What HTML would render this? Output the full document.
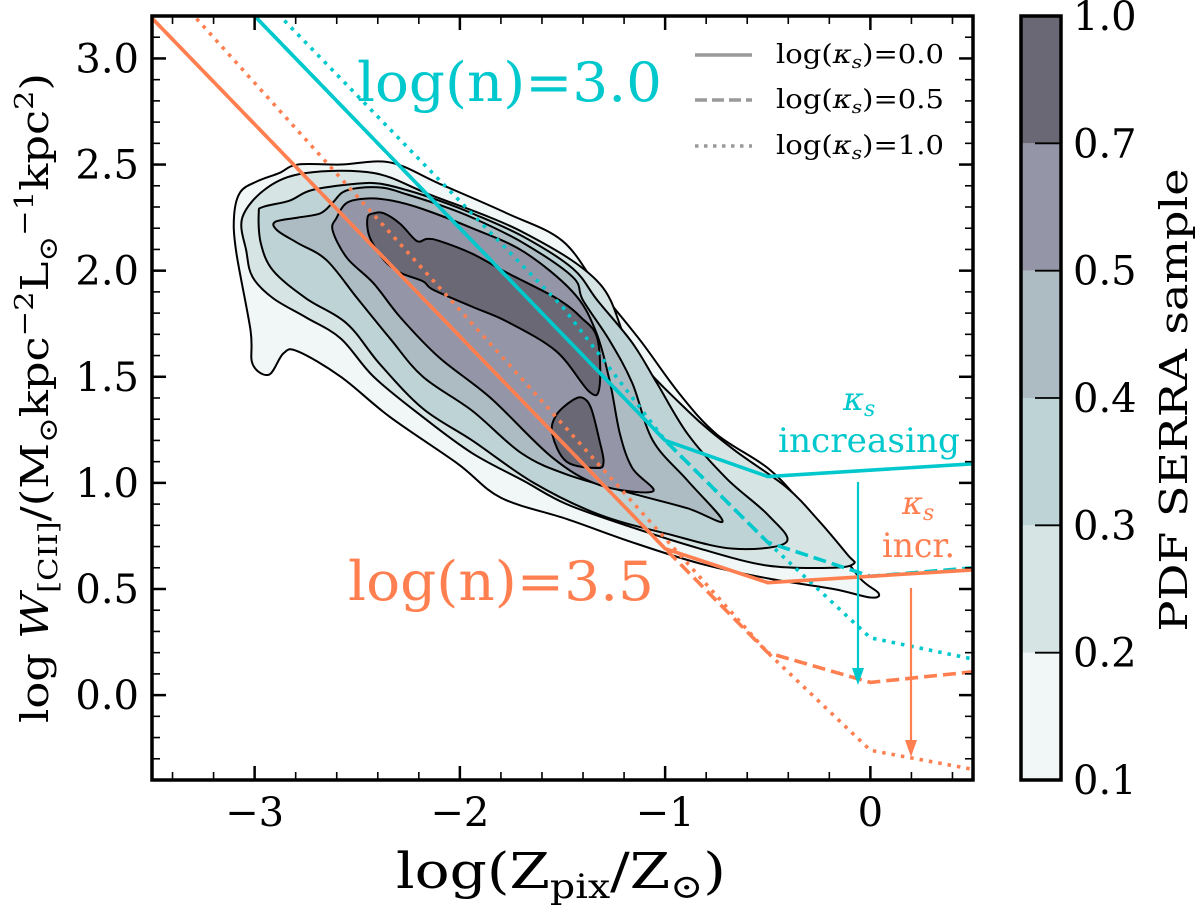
<!DOCTYPE html>
<html><head><meta charset="utf-8"><style>
html,body{margin:0;padding:0;background:#fff;}
svg{display:block;font-family:"DejaVu Serif","Liberation Serif",serif;}
</style></head><body>
<svg id="chart" width="1200" height="908" viewBox="0 0 1200 908" xmlns="http://www.w3.org/2000/svg">
<g id="contours"></g>
<g id="lines"></g>
<g id="axes"></g>
<text x="357" y="101" font-size="54" fill="#00c8cc" textLength="305" lengthAdjust="spacingAndGlyphs">log(n)=3.0</text>
<text x="348" y="600" font-size="54" fill="#ff7f50" textLength="306" lengthAdjust="spacingAndGlyphs">log(n)=3.5</text>
<g fill="#00c8cc">
<text x="843" y="410" font-size="32" font-style="italic">κ<tspan font-size="22" dy="6">s</tspan></text>
<text x="778" y="452" font-size="34" textLength="182" lengthAdjust="spacingAndGlyphs">increasing</text>
</g>
<g fill="#ff7f50">
<text x="902" y="514" font-size="32" font-style="italic">κ<tspan font-size="22" dy="6">s</tspan></text>
<text x="882" y="557" font-size="34" textLength="73" lengthAdjust="spacingAndGlyphs">incr.</text>
</g>
<g>
<line x1="695" y1="55" x2="752" y2="55" stroke="#999" stroke-width="3.5"/>
<text x="776" y="63" font-size="26" textLength="168" lengthAdjust="spacingAndGlyphs">log(<tspan font-style="italic">κ<tspan font-size="18" dy="5">s</tspan></tspan><tspan dy="-5">)=0.0</tspan></text>
<line x1="695" y1="100" x2="752" y2="100" stroke="#999" stroke-width="3.5" stroke-dasharray="12,5"/>
<text x="776" y="108" font-size="26" textLength="168" lengthAdjust="spacingAndGlyphs">log(<tspan font-style="italic">κ<tspan font-size="18" dy="5">s</tspan></tspan><tspan dy="-5">)=0.5</tspan></text>
<line x1="695" y1="146" x2="752" y2="146" stroke="#999" stroke-width="3.5" stroke-dasharray="3.5,5.5"/>
<text x="776" y="154" font-size="26" textLength="168" lengthAdjust="spacingAndGlyphs">log(<tspan font-style="italic">κ<tspan font-size="18" dy="5">s</tspan></tspan><tspan dy="-5">)=1.0</tspan></text>
</g>
<text transform="translate(48,398) rotate(-90)" text-anchor="middle" font-size="38" textLength="650" lengthAdjust="spacingAndGlyphs">log <tspan font-style="italic">W</tspan><tspan font-size="26" dy="9">[CII]</tspan><tspan dy="-9">/(M</tspan><tspan font-size="26" dy="9">⊙</tspan><tspan dy="-9">kpc</tspan><tspan font-size="26" dy="-15">−2</tspan><tspan dy="15">L</tspan><tspan font-size="26" dy="9">⊙</tspan><tspan font-size="26" dy="-24">−1</tspan><tspan dy="15">kpc</tspan><tspan font-size="26" dy="-15">2</tspan><tspan dy="15">)</tspan></text>
<text x="396" y="888" font-size="50" textLength="330" lengthAdjust="spacingAndGlyphs">log(Z<tspan font-size="34" dy="10">pix</tspan><tspan dy="-10">/Z</tspan><tspan font-size="34" dy="10">⊙</tspan><tspan dy="-10">)</tspan></text>
<g id="cbar"></g>
<text transform="translate(1187,400) rotate(-90)" text-anchor="middle" font-size="38" textLength="463" lengthAdjust="spacingAndGlyphs">PDF SERRA sample</text>
</svg>
<script>
// ---- data ----
const xTicks = [-3, -2, -1, 0];
const yTicks = [0.0, 0.5, 1.0, 1.5, 2.0, 2.5, 3.0];
const yTickLabels = ["0.0","0.5","1.0","1.5","2.0","2.5","3.0"];
const xTickLabels = ["−3","−2","−1","0"];
const cbarLevels = [0.1, 0.2, 0.3, 0.4, 0.5, 0.7, 1.0];
const cbarLabels = ["0.1","0.2","0.3","0.4","0.5","0.7","1.0"];
const bandColors = ["#f1f6f6","#d7e4e4","#bdd3d6","#adbcc2","#9496a8","#696874"];

const cyanSolidX = [-3.5, -1.0, -0.5, 0.5];
const cyanSolidY = [3.7, 1.2, 1.03, 1.09];
const cyanDashedX = [-3.5, -1.0, -0.5, 0.0, 0.5];
const cyanDashedY = [3.7, 1.2, 0.72, 0.56, 0.6];
const cyanDottedX = [-3.5, -1.5, -1.0, -0.5, 0.0, 0.5];
const cyanDottedY = [3.82, 1.83, 1.2, 0.72, 0.27, 0.17];
const orangeSolidX = [-3.5, -1.0, -0.5, 0.5];
const orangeSolidY = [3.19, 0.69, 0.53, 0.59];
const orangeDashedX = [-3.5, -1.0, -0.5, 0.0, 0.5];
const orangeDashedY = [3.19, 0.69, 0.2, 0.06, 0.11];
const orangeDottedX = [-3.5, -1.8, -0.5, 0.0, 0.5];
const orangeDottedY = [3.42, 1.6, 0.2, -0.26, -0.35];

const contour01 = [[-3.10,2.26],[-3.07,2.37],[-2.99,2.42],[-2.88,2.46],[-2.79,2.50],[-2.58,2.50],[-2.34,2.51],[-2.10,2.41],[-1.77,2.27],[-1.50,2.14],[-1.32,1.91],[-1.12,1.67],[-0.93,1.42],[-0.75,1.23],[-0.50,1.07],[-0.34,0.91],[-0.18,0.72],[-0.05,0.55],[0.04,0.48],[0.00,0.46],[-0.18,0.50],[-0.50,0.55],[-0.83,0.62],[-1.16,0.72],[-1.48,0.83],[-1.80,0.93],[-2.01,1.09],[-2.34,1.31],[-2.58,1.50],[-2.79,1.62],[-2.86,1.61],[-2.93,1.51],[-3.01,1.56],[-3.02,1.72],[-3.09,2.09]];
const contour02 = [[-3.06,2.25],[-2.94,2.39],[-2.75,2.46],[-2.42,2.46],[-2.15,2.36],[-1.69,2.18],[-1.32,1.94],[-1.16,1.62],[-0.89,1.34],[-0.67,1.16],[-0.41,0.98],[-0.25,0.82],[-0.11,0.66],[-0.08,0.62],[-0.18,0.60],[-0.50,0.61],[-0.83,0.69],[-1.16,0.79],[-1.48,0.90],[-1.69,1.01],[-1.94,1.14],[-2.18,1.31],[-2.42,1.50],[-2.58,1.68],[-2.75,1.78],[-2.91,1.87],[-3.01,1.97],[-3.04,2.09]];
const contour03 = [[-2.98,2.27],[-2.96,2.30],[-2.83,2.33],[-2.72,2.38],[-2.50,2.41],[-2.39,2.41],[-2.26,2.38],[-2.10,2.33],[-1.94,2.27],[-1.69,2.16],[-1.45,2.01],[-1.33,1.86],[-1.16,1.66],[-1.04,1.47],[-0.89,1.23],[-0.70,1.02],[-0.50,0.85],[-0.41,0.72],[-0.67,0.69],[-0.99,0.76],[-1.32,0.85],[-1.64,1.00],[-1.94,1.20],[-2.18,1.35],[-2.39,1.56],[-2.55,1.75],[-2.75,1.87],[-2.91,2.00],[-2.97,2.13]];
const contour04 = [[-2.90,2.23],[-2.79,2.25],[-2.68,2.27],[-2.62,2.32],[-2.57,2.37],[-2.49,2.39],[-2.37,2.39],[-2.26,2.36],[-2.10,2.31],[-1.94,2.25],[-1.69,2.13],[-1.45,1.97],[-1.40,1.86],[-1.27,1.67],[-1.16,1.47],[-1.06,1.20],[-0.89,1.01],[-0.72,0.82],[-0.89,0.88],[-1.16,0.95],[-1.48,1.04],[-1.70,1.14],[-1.94,1.34],[-2.18,1.50],[-2.34,1.68],[-2.50,1.87],[-2.65,2.05],[-2.79,2.13],[-2.89,2.19]];
const contour05 = [[-2.62,2.19],[-2.60,2.25],[-2.55,2.32],[-2.45,2.34],[-2.33,2.33],[-2.18,2.29],[-1.94,2.20],[-1.69,2.09],[-1.45,1.90],[-1.34,1.72],[-1.27,1.48],[-1.22,1.23],[-1.16,1.07],[-1.06,0.96],[-1.32,0.99],[-1.55,1.12],[-1.85,1.40],[-2.10,1.59],[-2.29,1.78],[-2.42,1.94],[-2.55,2.06]];
const contour07a = [[-2.45,2.25],[-2.42,2.27],[-2.37,2.27],[-2.29,2.22],[-2.21,2.14],[-2.16,2.15],[-2.10,2.14],[-1.94,2.08],[-1.77,1.99],[-1.53,1.87],[-1.41,1.78],[-1.33,1.68],[-1.32,1.45],[-1.37,1.43],[-1.53,1.62],[-1.77,1.76],[-1.94,1.83],[-2.13,1.91],[-2.18,1.95],[-2.29,1.99],[-2.37,2.05],[-2.44,2.16]];
const contour07b = [[-1.40,1.40],[-1.36,1.35],[-1.32,1.20],[-1.30,1.10],[-1.33,1.07],[-1.48,1.10],[-1.55,1.23],[-1.53,1.32],[-1.45,1.39]];

// ---- geometry ----
const PL=152, PR=973, PT=16, PB=780, XMIN=-3.5, XMAX=0.5, YMIN=-0.4, YMAX=3.2;
const X = v => PL + (v - XMIN) / (XMAX - XMIN) * (PR - PL);
const Y = v => PT + (YMAX - v) / (YMAX - YMIN) * (PB - PT);
const NS = "http://www.w3.org/2000/svg";
function mk(tag, attrs, parent){const e=document.createElementNS(NS,tag);for(const k in attrs)e.setAttribute(k,attrs[k]);parent.appendChild(e);return e;}

function smoothClosed(pts){
  const p = pts.map(d=>[X(d[0]),Y(d[1])]); const n=p.length; let s=`M${p[0][0]},${p[0][1]}`;
  for(let i=0;i<n;i++){const p0=p[(i-1+n)%n],p1=p[i],p2=p[(i+1)%n],p3=p[(i+2)%n];
    const c1=[p1[0]+(p2[0]-p0[0])/6,p1[1]+(p2[1]-p0[1])/6], c2=[p2[0]-(p3[0]-p1[0])/6,p2[1]-(p3[1]-p1[1])/6];
    s+=`C${c1[0]},${c1[1]} ${c2[0]},${c2[1]} ${p2[0]},${p2[1]}`;}
  return s+"Z";
}
const cg=document.getElementById('contours');
const clip=mk('clipPath',{id:'plotclip'},document.getElementById('chart'));
mk('rect',{x:PL,y:PT,width:PR-PL,height:PB-PT},clip);
cg.setAttribute('clip-path','url(#plotclip)');
const contourSets=[[contour01],[contour02],[contour03],[contour04],[contour05],[contour07a,contour07b]];
contourSets.forEach((set,i)=>{set.forEach((c,j)=>{
  const el=mk('path',{d:smoothClosed(c),fill:bandColors[i],stroke:'#000','stroke-width':2},cg);
  
  
});});

const lg=document.getElementById('lines');
lg.setAttribute('clip-path','url(#plotclip)');
const series=[
 ['cyan-solid',cyanSolidX,cyanSolidY,'#00c8cc',null],
 ['cyan-dashed',cyanDashedX,cyanDashedY,'#00c8cc','13,6'],
 ['cyan-dotted',cyanDottedX,cyanDottedY,'#00c8cc','3.5,6'],
 ['orange-solid',orangeSolidX,orangeSolidY,'#ff7f50',null],
 ['orange-dashed',orangeDashedX,orangeDashedY,'#ff7f50','13,6'],
 ['orange-dotted',orangeDottedX,orangeDottedY,'#ff7f50','3.5,6']];
[4,5,1,2,0,3].forEach(k=>{const s=series[k];
  const d=s[1].map((x,i)=>(i?'L':'M')+X(x)+','+Y(s[2][i])).join('');
  const a={d:d,fill:'none',stroke:s[3],'stroke-width':3.6};
  if(s[4])a['stroke-dasharray']=s[4];
  const el=mk('path',a,lg);
  
  
});
function arrow(x,y1,y2,col,name){
  const g=mk('g',{},lg);
  
  
  mk('line',{x1:x,y1:y1,x2:x,y2:y2-12,stroke:col,'stroke-width':2.2},g);
  mk('path',{d:`M${x-6},${y2-17}L${x+6},${y2-17}L${x},${y2}Z`,fill:col},g);
}
arrow(858,482,685,'#00c8cc','arrow-cyan');
arrow(911,588,757,'#ff7f50','arrow-orange');

const ax=document.getElementById('axes');
mk('rect',{x:PL,y:PT,width:PR-PL,height:PB-PT,fill:'none',stroke:'#000','stroke-width':3.5},ax);
for(let v=-3.4;v<=0.41;v+=0.2){const x=X(Math.round(v*10)/10);const maj=Math.abs(v-Math.round(v))<1e-6;const L=maj?14:8;
  mk('line',{x1:x,y1:PB,x2:x,y2:PB-L,stroke:'#000','stroke-width':maj?2.5:1.6},ax);
  mk('line',{x1:x,y1:PT,x2:x,y2:PT+L,stroke:'#000','stroke-width':maj?2.5:1.6},ax);}
for(let i=-3;i<32;i++){const v=i/10;const y=Y(v);const maj=i%5===0;const L=maj?14:8;
  mk('line',{x1:PL,y1:y,x2:PL+L,y2:y,stroke:'#000','stroke-width':maj?2.5:1.6},ax);
  mk('line',{x1:PR,y1:y,x2:PR-L,y2:y,stroke:'#000','stroke-width':maj?2.5:1.6},ax);}
xTicks.forEach((v,i)=>{const t=mk('text',{x:X(v),y:826,'font-size':40,'text-anchor':'middle'},ax);t.textContent=xTickLabels[i];
  
  });
yTicks.forEach((v,i)=>{const t=mk('text',{x:139,y:Y(v)+14,'font-size':40,'text-anchor':'end'},ax);t.textContent=yTickLabels[i];
  
  });

const cb=document.getElementById('cbar');
const CL=1021, CR=1061, CT=16, CB=780;
const CY=i=>CB-i*(CB-CT)/(cbarLevels.length-1);
for(let i=0;i<bandColors.length;i++){
  const el=mk('rect',{x:CL,y:CY(i+1),width:CR-CL,height:CY(i)-CY(i+1),fill:bandColors[i]},cb);
  
  
}
mk('rect',{x:CL,y:CT,width:CR-CL,height:CB-CT,fill:'none',stroke:'#000','stroke-width':3.5},cb);
cbarLevels.forEach((v,i)=>{const y=CY(i);
  if(i>0&&i<cbarLevels.length-1)mk('line',{x1:CR-26,y1:y,x2:CR,y2:y,stroke:'#000','stroke-width':1.8},cb);
  const t=mk('text',{x:1073,y:y+14,'font-size':40},cb);t.textContent=cbarLabels[i];
  
  });
</script>
</body></html>
